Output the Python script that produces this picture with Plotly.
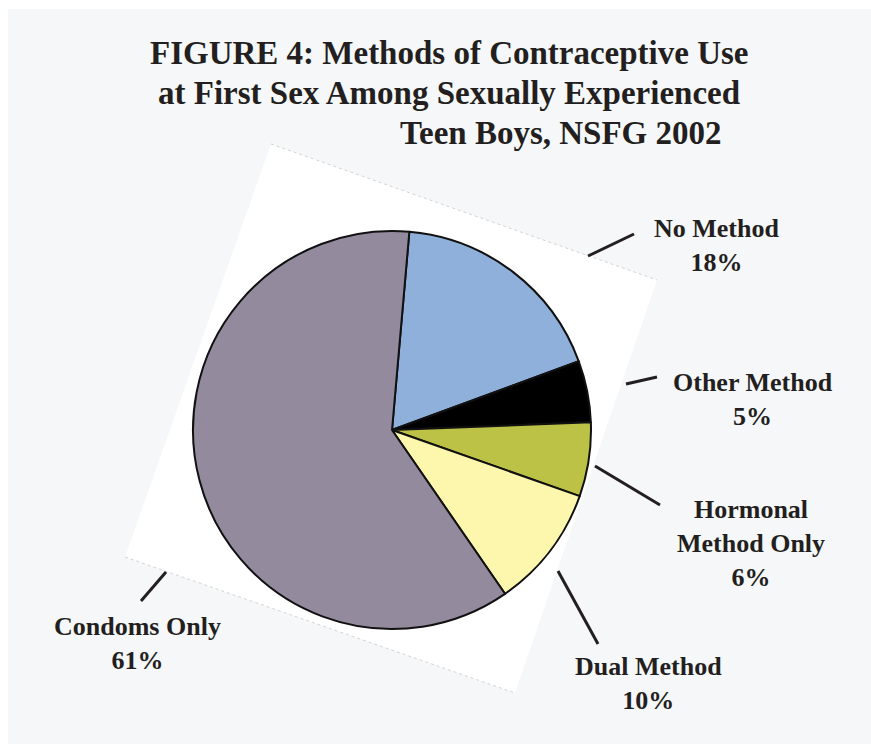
import plotly.graph_objects as go

W, H = 871, 744

categories = ["No Method", "Other Method", "Hormonal Method Only", "Dual Method", "Condoms Only"]
values = [18, 5, 6, 10, 61]
colors = ["#8fb0da", "#000000", "#bbc245", "#fdf6ad", "#948a9e"]
label_text = ["No Method<br>18%", "Other Method<br>5%", "Hormonal<br>Method Only<br>6%",
              "Dual Method<br>10%", "Condoms Only<br>61%"]
title_lines = ["FIGURE 4: Methods of Contraceptive Use",
               "at First Sex Among Sexually Experienced",
               "Teen Boys, NSFG 2002"]

def px(x):
    return x / W

def py(y):
    return 1 - y / H

cx, cy, r = 392, 430, 199

fig = go.Figure()
fig.add_trace(go.Pie(
    labels=categories, values=values, sort=False, direction="clockwise", rotation=5,
    marker=dict(colors=colors, line=dict(color="#111111", width=2)),
    textinfo="none", hoverinfo="label+percent", showlegend=False,
    domain=dict(x=[px(cx - r), px(cx + r)], y=[py(cy + r), py(cy - r)]),
))

shapes = []
# light gray panel
shapes.append(dict(type="rect", xref="paper", yref="paper", x0=px(8), x1=1, y0=0, y1=py(9),
                   fillcolor="#f6f7f9", line=dict(width=0), layer="below"))
# rotated white card
card = [(271, 144), (657, 280), (515, 693), (125, 557)]
path = "M " + " L ".join(f"{px(x):.5f},{py(y):.5f}" for x, y in card) + " Z"
shapes.append(dict(type="path", xref="paper", yref="paper", path=path,
                   fillcolor="#ffffff", line=dict(width=0), layer="below"))
for (x0, y0), (x1, y1) in [(card[0], card[1]), (card[3], card[2])]:
    shapes.append(dict(type="line", xref="paper", yref="paper", x0=px(x0), y0=py(y0),
                       x1=px(x1), y1=py(y1), line=dict(color="#d4d4d4", width=1, dash="dot"),
                       layer="below"))
# leader lines
leaders = [((588, 256), (634, 234)), ((626, 384), (657, 377)), ((595, 466), (660, 505)),
           ((558, 571), (598, 644)), ((166, 572), (141, 601))]
for (x0, y0), (x1, y1) in leaders:
    shapes.append(dict(type="line", xref="paper", yref="paper", x0=px(x0), y0=py(y0),
                       x1=px(x1), y1=py(y1), line=dict(color="#231f20", width=3), layer="above"))

annotations = []
title_pos = [(450, 53), (449, 93), (561, 133)]
for t, (x, y) in zip(title_lines, title_pos):
    annotations.append(dict(text=f"<b>{t}</b>", x=px(x), y=py(y), xref="paper", yref="paper",
                            xanchor="center", yanchor="middle", showarrow=False,
                            font=dict(family="Liberation Serif", size=33, color="#231f20")))
label_pos = [(716, 245), (753, 399), (751, 543), (648, 683), (137, 643)]
for t, (x, y) in zip(label_text, label_pos):
    annotations.append(dict(text=f"<b>{t}</b>", x=px(x), y=py(y), xref="paper", yref="paper",
                            xanchor="center", yanchor="middle", showarrow=False, align="center",
                            font=dict(family="Liberation Serif", size=26, color="#231f20")))

fig.update_layout(width=W, height=H, margin=dict(l=0, r=0, t=0, b=0),
                  paper_bgcolor="#ffffff", plot_bgcolor="#ffffff",
                  shapes=shapes, annotations=annotations)
fig.write_html("out.html")
